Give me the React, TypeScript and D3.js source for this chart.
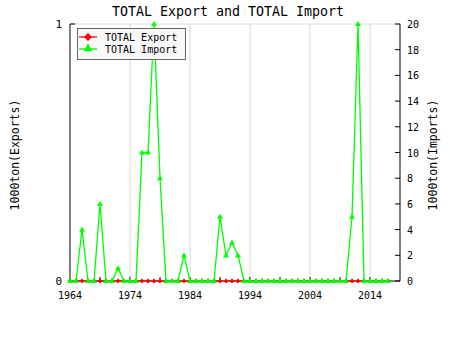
import React from "react";
import * as d3 from "d3";

const years: number[] = d3.range(1964, 2018);
const imports: number[] = [
  0, 0, 4, 0, 0, 6, 0, 0, 1, 0,
  0, 0, 10, 10, 20, 8, 0, 0, 0, 2,
  0, 0, 0, 0, 0, 5, 2, 3, 2, 0,
  0, 0, 0, 0, 0, 0, 0, 0, 0, 0,
  0, 0, 0, 0, 0, 0, 0, 5, 20, 0,
  0, 0, 0, 0,
];
const exportsVals: number[] = years.map(() => 0);
const xLabelTicks: number[] = [1964, 1974, 1984, 1994, 2004, 2014];
const xMinorTicks: number[] = [1969, 1974, 1979, 1984, 1989, 1994, 1999, 2004, 2009, 2014];
const gridYears: number[] = [1974, 1984, 1994, 2004, 2014];
const rightTicks: number[] = d3.range(0, 21, 2);
const leftTicks: number[] = [0, 1];

const W = 450, H = 350;
const L = 70, R = 400, T = 24, B = 281;
const FONT = "'DejaVu Sans Mono', monospace";

export default function App() {
  const x = d3.scaleLinear().domain([1964, 2019]).range([L, R]);
  const yL = d3.scaleLinear().domain([0, 1]).range([B, T]);
  const yR = d3.scaleLinear().domain([0, 20]).range([B, T]);

  const lineE = d3.line<number>().x((_, i) => x(years[i])).y((d) => yL(d));
  const lineI = d3.line<number>().x((_, i) => x(years[i])).y((d) => yR(d));

  const diamond = (cx: number, cy: number, r = 2.4) =>
    `M${cx},${cy - r}L${cx + r},${cy}L${cx},${cy + r}L${cx - r},${cy}Z`;
  const tri = (cx: number, cy: number, s = 3) =>
    `M${cx},${cy - s}L${cx + s},${cy + s * 0.7}L${cx - s},${cy + s * 0.7}Z`;

  const txt = (size: number) => ({ fontFamily: FONT, fontSize: size, fill: "#000" });

  return (
    <svg width={W} height={H} style={{ position: "absolute", left: 0, top: 0, background: "#fff" }}>
      <rect x={0} y={0} width={W} height={H} fill="#fff" />
      {/* grid */}
      <line x1={L} x2={R} y1={T} y2={T} stroke="#d8d8d8" strokeWidth={1} />
      {gridYears.map((yr) => (
        <line key={yr} x1={x(yr)} x2={x(yr)} y1={T} y2={B} stroke="#d8d8d8" strokeWidth={1} />
      ))}
      {/* axes */}
      <line x1={L} x2={L} y1={T} y2={B} stroke="#000" />
      <line x1={R} x2={R} y1={T} y2={B} stroke="#000" />
      <line x1={L} x2={R} y1={B} y2={B} stroke="#000" />
      {leftTicks.map((v) => (
        <g key={"l" + v}>
          <line x1={L} x2={L + 5} y1={yL(v)} y2={yL(v)} stroke="#000" />
          <text x={L - 8} y={yL(v) + 4} textAnchor="end" {...txt(11)}>{v}</text>
        </g>
      ))}
      {rightTicks.map((v) => (
        <g key={"r" + v}>
          <line x1={R - 5} x2={R} y1={yR(v)} y2={yR(v)} stroke="#000" />
          <text x={R + 7} y={yR(v) + 4} textAnchor="start" {...txt(10)}>{v}</text>
        </g>
      ))}
      {xMinorTicks.map((yr) => (
        <line key={"m" + yr} x1={x(yr)} x2={x(yr)} y1={B} y2={B - 4} stroke="#000" />
      ))}
      {xLabelTicks.map((yr) => (
        <text key={"xl" + yr} x={x(yr)} y={299} textAnchor="middle" {...txt(10)}>{yr}</text>
      ))}
      {/* series */}
      <path d={lineE(exportsVals) || ""} fill="none" stroke="#ff0000" strokeWidth={1} />
      {exportsVals.map((v, i) => (
        <path key={"e" + i} d={diamond(x(years[i]), yL(v))} fill="#ff0000" />
      ))}
      <path d={lineI(imports) || ""} fill="none" stroke="#00ff00" strokeWidth={1.3} />
      {imports.map((v, i) => (
        <path key={"i" + i} d={tri(x(years[i]), yR(v))} fill="#00ff00" />
      ))}
      {/* titles */}
      <text x={228} y={16} textAnchor="middle" {...txt(13.3)}>TOTAL Export and TOTAL Import</text>
      <text transform={`translate(19,155) rotate(-90)`} textAnchor="middle" {...txt(11.5)}>1000ton(Exports)</text>
      <text transform={`translate(437,155) rotate(-90)`} textAnchor="middle" {...txt(11.5)}>1000ton(Imports)</text>
      {/* legend */}
      <rect x={77.5} y={28.5} width={108} height={31} fill="#f8f8f8" stroke="#666" strokeWidth={1} />
      <line x1={79} x2={97} y1={37} y2={37} stroke="#ff0000" strokeWidth={1.3} />
      <path d={diamond(88, 37, 4)} fill="#ff0000" />
      <text x={105} y={41} {...txt(10)}>TOTAL Export</text>
      <line x1={79} x2={97} y1={49} y2={49} stroke="#00ff00" strokeWidth={1.3} />
      <path d={tri(88, 48, 4.5)} fill="#00ff00" />
      <text x={105} y={53} {...txt(10)}>TOTAL Import</text>
    </svg>
  );
}
